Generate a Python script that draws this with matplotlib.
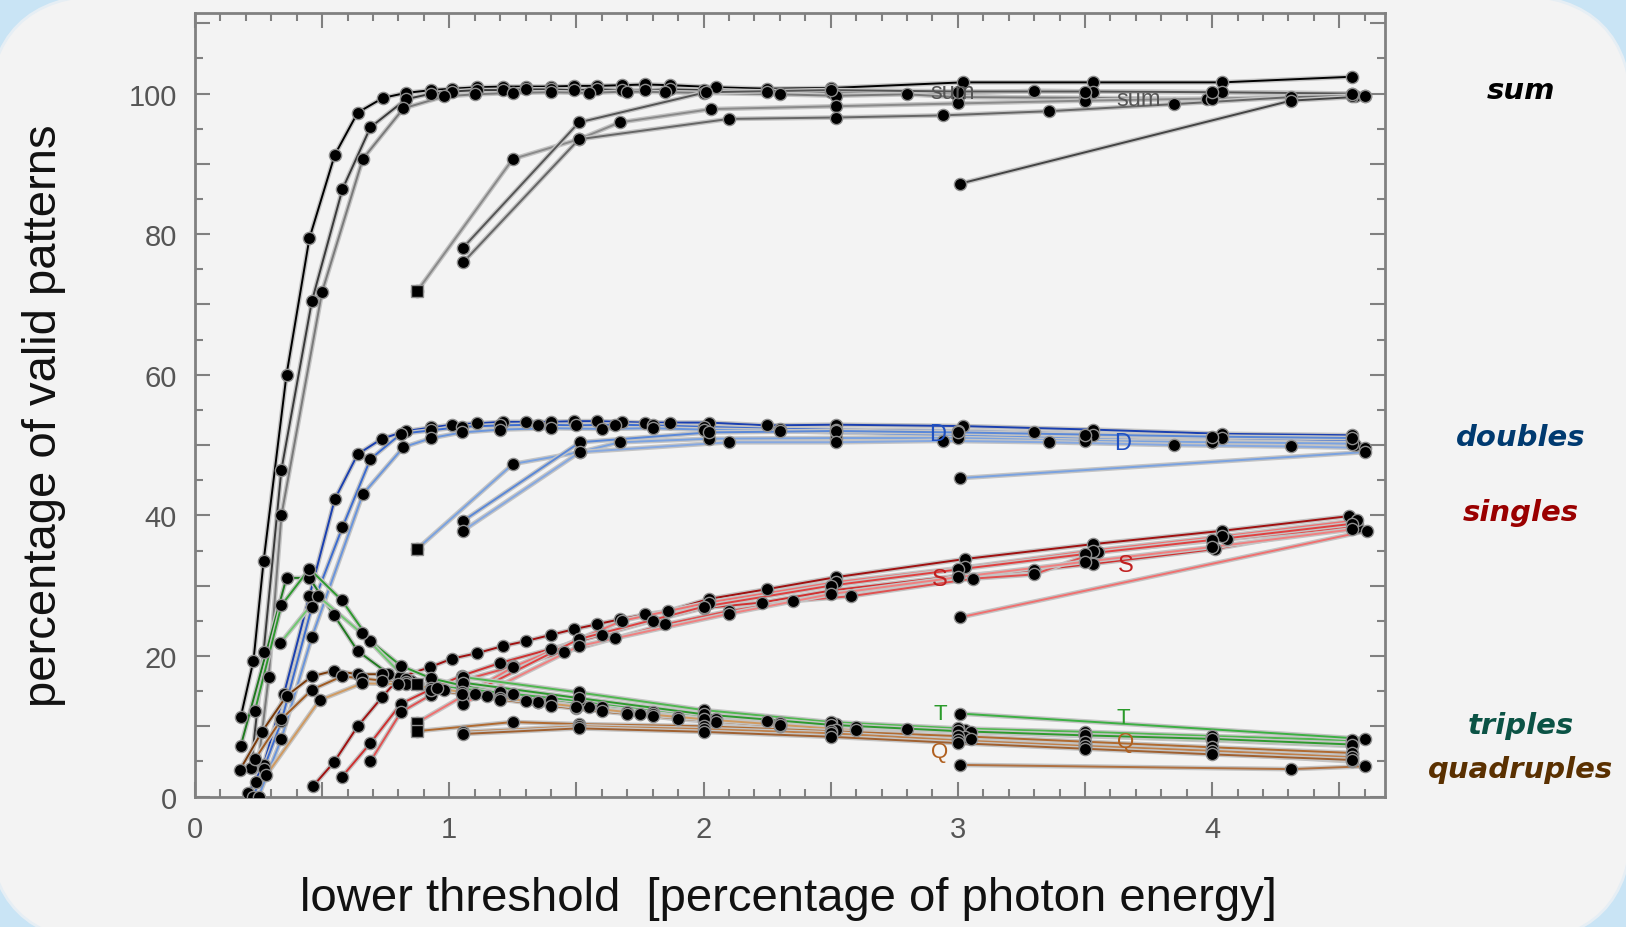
import matplotlib
matplotlib.use("Agg")
import matplotlib.pyplot as plt
import matplotlib.patheffects as pe
from matplotlib.patches import FancyBboxPatch
from matplotlib.ticker import MultipleLocator, FuncFormatter

# ---- data: (x = lower threshold, y = % valid patterns) ----
# sum
sum_a_x = [0.18, 0.23, 0.27, 0.36, 0.45, 0.55, 0.64, 0.74, 0.83, 0.93, 1.01, 1.11, 1.21, 1.30, 1.40,
           1.49, 1.58, 1.68, 1.77, 1.87, 2.05, 2.25, 2.5, 3.02, 3.53, 4.04, 4.55]
sum_a_y = [11.3, 19.3, 33.5, 60.0, 79.4, 91.3, 97.3, 99.4, 100.1, 100.5, 100.7, 100.9, 101.0, 101.0, 101.0,
           101.1, 101.1, 101.2, 101.3, 101.2, 100.9, 100.7, 100.8, 101.6, 101.6, 101.6, 102.4]
sum_b_x = [0.22, 0.27, 0.34, 0.46, 0.58, 0.69, 0.83, 0.93, 1.01, 1.11, 1.21, 1.30, 1.40, 1.49, 1.58,
           1.68, 1.77, 1.87, 2.0, 2.25, 2.5, 3.0, 3.3, 3.53, 4.04, 4.55]
sum_b_y = [4.0, 20.6, 46.5, 70.5, 86.4, 95.2, 99.2, 100.0, 100.3, 100.5, 100.5, 100.6, 100.6, 100.5, 100.6,
           100.5, 100.5, 100.6, 100.5, 100.3, 100.2, 100.0, 100.4, 100.3, 100.2, 100.0]
sum_c_x = [0.24, 0.29, 0.34, 0.50, 0.66, 0.82, 0.98, 1.1, 1.25, 1.4, 1.55, 1.7, 1.85, 2.0, 2.3, 2.52,
           2.8, 3.0, 3.5, 3.98, 4.56]
sum_c_y = [2.0, 17.0, 40.0, 71.8, 90.7, 97.9, 99.6, 99.9, 100.1, 100.2, 100.1, 100.3, 100.2, 100.1, 99.9, 99.7,
           99.9, 99.5, 99.4, 99.2, 99.6]
sum_d_x = [0.874, 1.25, 1.51, 1.67, 2.03, 2.52, 3.0, 3.5, 4.0, 4.55]
sum_d_y = [71.9, 90.7, 93.5, 95.9, 97.8, 98.2, 98.6, 99.0, 99.3, 99.7]
sum_e_x = [1.055, 1.51, 2.01, 2.5, 3.0, 3.5, 4.0, 4.55]
sum_e_y = [78.1, 95.9, 100.2, 100.5, 100.3, 100.3, 100.2, 100.0]
sum_f_x = [1.055, 1.51, 2.10, 2.52, 2.94, 3.36, 3.85, 4.31, 4.6]
sum_f_y = [76.0, 93.5, 96.4, 96.6, 96.9, 97.5, 98.5, 99.5, 99.7]
sum_g_x = [3.01, 4.31, 4.6]
sum_g_y = [87.2, 99.0, 99.6]

# doubles
dbl_a_x = [0.21, 0.27, 0.35, 0.45, 0.55, 0.64, 0.735, 0.83, 0.93, 1.01, 1.11, 1.21, 1.30, 1.40, 1.49,
           1.58, 1.68, 1.77, 1.87, 2.02, 2.25, 2.52, 3.02, 3.53, 4.04, 4.55]
dbl_a_y = [0.5, 4.5, 14.6, 28.5, 42.3, 48.7, 50.9, 52.0, 52.5, 52.9, 53.1, 53.3, 53.3, 53.3, 53.4,
           53.4, 53.3, 53.2, 53.2, 53.2, 52.8, 52.9, 52.7, 52.2, 51.6, 51.4]
dbl_b_x = [0.23, 0.27, 0.34, 0.46, 0.58, 0.69, 0.81, 0.93, 1.05, 1.2, 1.35, 1.5, 1.65, 1.8, 2.0, 2.3,
           2.52, 3.0, 3.3, 3.53, 4.04, 4.55]
dbl_b_y = [0.0, 3.9, 10.7, 27.0, 38.3, 48.0, 51.6, 52.1, 52.6, 52.8, 52.9, 52.8, 52.9, 52.8, 52.6, 52.3,
           52.2, 52.0, 51.8, 51.5, 51.0, 50.7]
dbl_c_x = [0.25, 0.34, 0.46, 0.66, 0.82, 0.93, 1.05, 1.2, 1.4, 1.6, 1.8, 2.0, 2.3, 2.52, 3.0, 3.5, 4.0, 4.56]
dbl_c_y = [0.0, 8.2, 22.7, 43.0, 49.7, 51.0, 51.8, 52.2, 52.4, 52.3, 52.4, 52.2, 52.0, 51.8, 51.4, 50.9, 50.5, 50.0]
dbl_d_x = [0.873, 1.25, 1.514, 1.67, 2.02, 2.52, 3.0, 3.5, 4.0, 4.55]
dbl_d_y = [35.2, 47.3, 49.0, 50.4, 50.9, 51.0, 51.0, 50.6, 50.4, 50.2]
dbl_e_x = [1.054, 1.514, 2.02, 2.52, 3.0, 3.5, 4.0, 4.55]
dbl_e_y = [39.2, 50.4, 51.8, 52.0, 51.8, 51.5, 51.2, 51.0]
dbl_f_x = [1.054, 1.514, 2.10, 2.52, 2.94, 3.36, 3.85, 4.31, 4.6]
dbl_f_y = [37.8, 49.0, 50.4, 50.4, 50.6, 50.4, 50.0, 49.8, 49.6]
dbl_g_x = [3.01, 4.6]
dbl_g_y = [45.3, 49.0]

# singles
sgl_a_x = [0.465, 0.547, 0.64, 0.735, 0.806, 0.924, 1.01, 1.11, 1.21, 1.30, 1.40, 1.49, 1.58, 1.67,
           1.77, 1.86, 2.02, 2.25, 2.52, 3.03, 3.53, 4.04, 4.54]
sgl_a_y = [1.5, 4.9, 10.0, 14.1, 17.0, 18.4, 19.6, 20.4, 21.4, 22.1, 23.0, 23.8, 24.5, 25.2,
           25.9, 26.4, 28.1, 29.5, 31.2, 33.8, 35.9, 37.8, 39.9]
sgl_b_x = [0.578, 0.69, 0.81, 0.93, 1.05, 1.2, 1.4, 1.6, 1.8, 2.0, 2.23, 2.5, 3.0, 3.3, 3.53, 4.01, 4.57]
sgl_b_y = [2.8, 7.6, 13.2, 15.3, 17.2, 19.0, 21.0, 23.0, 25.0, 26.8, 27.6, 29.3, 31.4, 32.2, 33.1, 35.2, 38.8]
sgl_c_x = [0.69, 0.81, 0.93, 1.05, 1.25, 1.45, 1.65, 1.85, 2.1, 2.35, 2.58, 3.06, 3.3, 3.55, 4.06, 4.57]
sgl_c_y = [5.0, 12.0, 14.5, 16.5, 18.5, 20.5, 22.5, 24.5, 26.4, 27.8, 28.5, 31.0, 31.6, 34.8, 36.6, 38.4]
sgl_d_x = [0.873, 1.25, 1.51, 1.68, 2.02, 2.52, 3.03, 3.53, 4.04, 4.57]
sgl_d_y = [10.5, 18.4, 22.4, 25.0, 27.6, 30.5, 32.6, 35.0, 37.0, 39.3]
sgl_e_x = [1.054, 1.51, 2.0, 2.5, 3.0, 3.5, 4.0, 4.55]
sgl_e_y = [14.1, 22.4, 27.0, 30.0, 32.3, 34.5, 36.5, 38.8]
sgl_f_x = [1.054, 1.51, 2.1, 2.5, 3.0, 3.5, 4.0, 4.55]
sgl_f_y = [13.2, 21.4, 26.0, 28.8, 31.2, 33.4, 35.5, 38.0]
sgl_g_x = [3.01, 4.61]
sgl_g_y = [25.5, 37.8]

# triples
trp_a_x = [0.18, 0.36, 0.45, 0.547, 0.64, 0.76, 0.85, 0.95, 1.05, 1.2, 1.35, 1.5, 1.7, 1.9, 2.05,
           2.3, 2.52, 2.8, 3.03, 3.5, 4.0, 4.55]
trp_a_y = [7.2, 31.1, 31.1, 25.8, 20.7, 17.5, 16.5, 15.5, 15.0, 14.2, 13.5, 12.8, 12.0, 11.3, 11.0,
           10.4, 10.1, 9.6, 9.4, 8.8, 8.2, 7.4]
trp_b_x = [0.236, 0.34, 0.45, 0.578, 0.69, 0.81, 0.93, 1.05, 1.2, 1.4, 1.6, 1.8, 2.0, 2.25, 2.52,
           3.0, 3.5, 4.0, 4.55]
trp_b_y = [12.2, 27.2, 32.4, 27.9, 22.1, 18.6, 16.8, 15.8, 14.8, 13.8, 12.8, 12.0, 11.3, 10.7, 10.3,
           9.6, 9.0, 8.4, 7.8]
trp_c_x = [0.335, 0.485, 0.656, 0.83, 0.98, 1.15, 1.35, 1.55, 1.8, 2.05, 2.3, 2.6, 3.05, 3.5, 4.0, 4.55]
trp_c_y = [21.8, 28.5, 23.2, 16.7, 15.2, 14.3, 13.5, 12.7, 11.8, 11.0, 10.5, 9.9, 9.2, 8.6, 8.0, 7.2]
trp_d_x = [0.873, 1.25, 1.51, 2.0, 2.5, 3.0, 3.5, 4.0, 4.55]
trp_d_y = [16.0, 14.6, 13.6, 11.5, 10.2, 9.5, 8.9, 8.3, 7.6]
trp_e_x = [1.054, 1.51, 2.0, 2.5, 3.0, 3.5, 4.0, 4.55]
trp_e_y = [17.0, 14.8, 12.3, 10.6, 9.7, 9.2, 8.6, 8.0]
trp_f_x = [1.054, 1.51, 2.0, 2.5, 3.0, 3.5, 4.0, 4.55]
trp_f_y = [16.2, 14.0, 11.7, 10.2, 9.3, 8.7, 8.2, 7.4]
trp_g_x = [3.01, 4.6]
trp_g_y = [11.8, 8.2]

# quadruples
qdr_a_x = [0.177, 0.263, 0.36, 0.46, 0.547, 0.64, 0.735, 0.83, 0.93, 1.05, 1.2, 1.35, 1.5, 1.7, 1.9,
           2.05, 2.3, 2.52, 3.03, 3.5, 4.0, 4.55]
qdr_a_y = [3.8, 9.2, 14.3, 17.1, 17.9, 17.4, 17.4, 16.3, 15.5, 14.8, 14.0, 13.4, 12.6, 11.8, 11.0,
           10.6, 10.0, 9.5, 8.4, 7.5, 6.8, 6.0]
qdr_b_x = [0.236, 0.34, 0.46, 0.578, 0.657, 0.735, 0.83, 0.93, 1.05, 1.2, 1.4, 1.6, 1.8, 2.0, 2.3,
           2.52, 3.0, 3.5, 4.0, 4.55]
qdr_b_y = [5.3, 11.0, 15.2, 17.1, 16.8, 16.5, 16.0, 15.2, 14.6, 13.8, 12.9, 12.1, 11.4, 10.8, 10.0,
           9.4, 8.2, 7.3, 6.4, 5.5]
qdr_c_x = [0.28, 0.49, 0.657, 0.8, 0.95, 1.1, 1.3, 1.5, 1.75, 2.0, 2.3, 2.6, 3.05, 3.5, 4.0, 4.55]
qdr_c_y = [3.0, 13.7, 16.1, 16.0, 15.4, 14.6, 13.6, 12.8, 11.8, 11.0, 10.2, 9.4, 8.2, 7.0, 6.2, 5.0]
qdr_d_x = [0.873, 1.25, 1.51, 2.0, 2.5, 3.0, 3.5, 4.0, 4.55]
qdr_d_y = [9.3, 10.6, 10.3, 10.0, 9.3, 8.6, 7.8, 7.0, 6.2]
qdr_e_x = [1.054, 1.51, 2.0, 2.5, 3.0, 3.5, 4.0, 4.55]
qdr_e_y = [9.2, 10.0, 9.6, 9.0, 8.0, 7.2, 6.5, 5.6]
qdr_f_x = [1.054, 1.51, 2.0, 2.5, 3.0, 3.5, 4.0, 4.55]
qdr_f_y = [8.9, 9.7, 9.2, 8.5, 7.6, 6.8, 6.0, 5.2]
qdr_g_x = [3.01, 4.31, 4.6]
qdr_g_y = [4.5, 3.9, 4.3]

# group names on the right and their colours
group_names = ["sum", "doubles", "singles", "triples", "quadruples"]
group_label_colors = ["#000000", "#003a70", "#9a0000", "#0b5345", "#5a3000"]

# ---- figure ----
fig = plt.figure(figsize=(16.26, 9.28), dpi=100)
fig.patch.set_facecolor("#c9e4f5")
panel = FancyBboxPatch((-0.12, -0.15), 16.44, 9.47,
                       boxstyle="round,pad=0,rounding_size=1.2",
                       transform=fig.dpi_scale_trans, facecolor="#f3f3f3",
                       edgecolor="#e6eef4", linewidth=2, zorder=-5)
fig.patches.append(panel)

ax = fig.add_axes([0.1199, 0.1406, 0.7319, 0.8438])
ax.set_facecolor("#f3f3f3")

halo = [pe.Stroke(linewidth=3.4, foreground="#c4c4c4"), pe.Normal()]


def curve(xs, ys, color, first_square=False):
    ax.plot(xs, ys, color=color, lw=1.4, zorder=2, path_effects=halo)
    ax.plot(xs, ys, ls="none", marker="o", ms=8.8, mfc="black", mec="#8f8f8f", mew=1.0, zorder=3)
    if first_square:
        ax.plot(xs[:1], ys[:1], ls="none", marker="s", ms=8.5, mfc="black", mec="#8f8f8f",
                mew=1.0, zorder=4)


groups = [
    ([(sum_a_x, sum_a_y), (sum_b_x, sum_b_y), (sum_c_x, sum_c_y), (sum_d_x, sum_d_y),
      (sum_e_x, sum_e_y), (sum_f_x, sum_f_y), (sum_g_x, sum_g_y)],
     ["#000000", "#3a3a3a", "#7a7a7a", "#8a8a8a", "#555555", "#666666", "#444444"]),
    ([(dbl_a_x, dbl_a_y), (dbl_b_x, dbl_b_y), (dbl_c_x, dbl_c_y), (dbl_d_x, dbl_d_y),
      (dbl_e_x, dbl_e_y), (dbl_f_x, dbl_f_y), (dbl_g_x, dbl_g_y)],
     ["#1a3fb0", "#3c6cd0", "#6a95dc", "#7aa2e0", "#5a88d8", "#86a8e0", "#7aa2e0"]),
    ([(sgl_a_x, sgl_a_y), (sgl_b_x, sgl_b_y), (sgl_c_x, sgl_c_y), (sgl_d_x, sgl_d_y),
      (sgl_e_x, sgl_e_y), (sgl_f_x, sgl_f_y), (sgl_g_x, sgl_g_y)],
     ["#a01010", "#d03030", "#e05050", "#f07070", "#e04040", "#f08080", "#f07070"]),
    ([(trp_a_x, trp_a_y), (trp_b_x, trp_b_y), (trp_c_x, trp_c_y), (trp_d_x, trp_d_y),
      (trp_e_x, trp_e_y), (trp_f_x, trp_f_y), (trp_g_x, trp_g_y)],
     ["#1e7a1e", "#2e9a2e", "#70c870", "#3cb043", "#50b850", "#2e9a2e", "#3cb043"]),
    ([(qdr_a_x, qdr_a_y), (qdr_b_x, qdr_b_y), (qdr_c_x, qdr_c_y), (qdr_d_x, qdr_d_y),
      (qdr_e_x, qdr_e_y), (qdr_f_x, qdr_f_y), (qdr_g_x, qdr_g_y)],
     ["#7a3a0a", "#a05a20", "#d09a60", "#b06a30", "#c0804a", "#a06030", "#b07040"]),
]

for series, colors in groups:
    for i, ((xs, ys), c) in enumerate(zip(series, colors)):
        curve(xs, ys, c, first_square=(i == 3))

# small in-plot curve tags
tag_font = dict(family="Liberation Sans", zorder=5, ha="center", va="center")
for x, y in [(2.98, 100.3), (3.71, 99.2)]:
    ax.text(x, y, "sum", color="#555555", fontsize=17, **tag_font)
for x, y in [(2.92, 51.6), (3.65, 50.3)]:
    ax.text(x, y, "D", color="#2050c0", fontsize=17, **tag_font)
for x, y in [(2.93, 31.0), (3.66, 33.0)]:
    ax.text(x, y, "S", color="#c02020", fontsize=17, **tag_font)
for x, y in [(2.93, 11.8), (3.65, 11.2)]:
    ax.text(x, y, "T", color="#2a9a2a", fontsize=16, **tag_font)
for x, y in [(2.93, 6.4), (3.66, 7.8)]:
    ax.text(x, y, "Q", color="#b06020", fontsize=16, **tag_font)

# axes styling
ax.set_xlim(0, 4.68)
ax.set_ylim(0, 111.4)
ax.xaxis.set_major_locator(MultipleLocator(0.5))
ax.xaxis.set_minor_locator(MultipleLocator(0.1))
ax.yaxis.set_major_locator(MultipleLocator(10))
ax.yaxis.set_minor_locator(MultipleLocator(5))
ax.xaxis.set_major_formatter(FuncFormatter(lambda v, p: f"{int(round(v))}" if abs(v - round(v)) < 1e-6 else ""))
ax.yaxis.set_major_formatter(FuncFormatter(lambda v, p: f"{int(round(v))}" if int(round(v)) % 20 == 0 else ""))
ax.tick_params(which="both", direction="in", top=True, right=True, color="#808080", width=1.5)
ax.tick_params(which="major", length=11, labelsize=21, labelcolor="#555555", pad=13)
ax.tick_params(which="minor", length=6)
for lab in ax.get_xticklabels() + ax.get_yticklabels():
    lab.set_family("Liberation Sans")
for s in ax.spines.values():
    s.set_color("#808080")
    s.set_linewidth(2)

ax.set_xlabel("lower threshold  [percentage of photon energy]", fontsize=34,
              family="Liberation Sans", color="#111111")
ax.xaxis.set_label_coords(0.4985, -0.102)
ax.set_ylabel("percentage of valid patterns", fontsize=34,
              family="Liberation Sans", color="#111111")
ax.yaxis.set_label_coords(-0.108, 0.488)

label_y = [0.902, 0.528, 0.447, 0.218, 0.170]
for name, col, yy in zip(group_names, group_label_colors, label_y):
    fig.text(0.9354, yy, name, color=col, fontsize=21, fontweight="bold", fontstyle="italic",
             family="DejaVu Sans", ha="center", va="center")

fig.savefig("out.png", dpi=100, facecolor=fig.get_facecolor())
